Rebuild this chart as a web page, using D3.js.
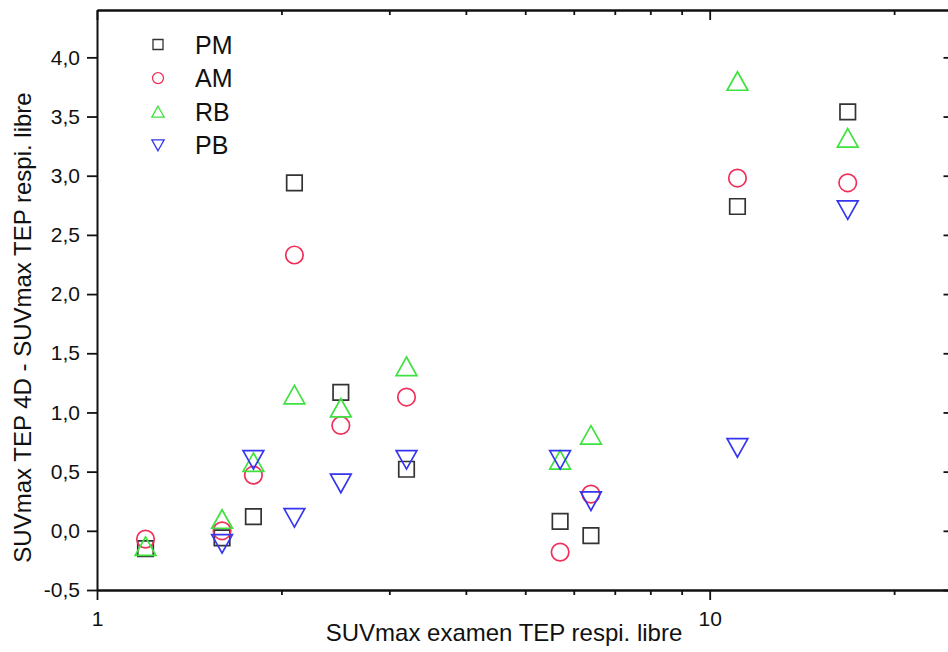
<!DOCTYPE html>
<html>
<head>
<meta charset="utf-8">
<script src="https://cdn.jsdelivr.net/npm/d3@7"></script>
<style>
  html, body { margin: 0; padding: 0; background: #fff; }
  svg { display: block; font-family: "Liberation Sans", Arial, sans-serif; }
</style>
</head>
<body>
<svg id="chart" width="948" height="652"></svg>
<script>
// SUVmax in free-breathing PET (x) vs. difference 4D PET - free-breathing PET (y)
const suvLibre = [1.2, 1.6, 1.8, 2.1, 2.5, 3.2, 5.7, 6.4, 11.1, 16.8];
const valsPM = [-0.15, -0.06, 0.12, 2.94, 1.17, 0.52, 0.08, -0.04, 2.74, 3.54];
const valsAM = [-0.07, 0.00, 0.47, 2.33, 0.89, 1.13, -0.18, 0.31, 2.98, 2.94];
const valsRB = [-0.13, 0.10, 0.58, 1.15, 1.04, 1.39, 0.60, 0.81, 3.80, 3.32];
const valsPB = [null, -0.11, 0.60, 0.11, 0.40, 0.60, 0.60, 0.25, 0.70, 2.71];

const seriesNames = ["PM", "AM", "RB", "PB"];
const seriesColors = ["#333333", "#f0305a", "#3ee23e", "#3535f0"];
const seriesShapes = ["square", "circle", "triangleUp", "triangleDown"];

const xMajorTicks = [1, 10];
const xMinorTicks = [2, 3, 4, 5, 6, 7, 8, 9, 20];
const yTicks = [-0.5, 0, 0.5, 1, 1.5, 2, 2.5, 3, 3.5, 4];

const xTitle = "SUVmax examen TEP respi. libre";
const yTitle = "SUVmax TEP 4D - SUVmax TEP respi. libre";

const series = [valsPM, valsAM, valsRB, valsPB].map((vals, i) => ({
  name: seriesNames[i], color: seriesColors[i], shape: seriesShapes[i],
  points: vals.map((v, j) => ({ x: suvLibre[j], y: v })).filter(p => p.y !== null)
}));

const svg = d3.select("#chart");
const plotLeft = 97, plotRight = 953.5, plotTop = 10, plotBottom = 590;

const x = d3.scaleLog().domain([1, 25]).range([plotLeft, plotRight]);
const y = d3.scaleLinear().domain([-0.5, 4.4]).range([plotBottom, plotTop]);

const fmtY = v => d3.format(".1f")(v).replace(".", ",").replace("−", "-");

// symbol path generator, centred on the bounding box
function shapePath(shape, s) {
  const h = s / 2;
  switch (shape) {
    case "square": return `M${-h},${-h}H${h}V${h}H${-h}Z`;
    case "circle": return `M${h},0A${h},${h} 0 1,1 ${-h},0A${h},${h} 0 1,1 ${h},0Z`;
    case "triangleUp": { const w = s * 0.56; return `M0,${-h}L${w},${h}L${-w},${h}Z`; }
    case "triangleDown": { const w = s * 0.56; return `M0,${h}L${w},${-h}L${-w},${-h}Z`; }
  }
}
const markSize = { square: 15.5, circle: 17.5, triangleUp: 18.5, triangleDown: 18.5 };

// axes
const axisStyle = g => {
  g.selectAll(".domain").attr("stroke", "#111").attr("stroke-width", 2);
  g.selectAll(".tick line").attr("stroke", "#111").attr("stroke-width", 1.8);
  g.selectAll(".tick text").attr("fill", "#111");
};

// bottom: major with labels, minor without
svg.append("g").attr("transform", `translate(0,${plotBottom})`)
  .call(d3.axisBottom(x).tickValues(xMinorTicks).tickSize(5).tickFormat("").tickSizeOuter(0))
  .call(axisStyle);
svg.append("g").attr("transform", `translate(0,${plotBottom})`)
  .call(d3.axisBottom(x).tickValues(xMajorTicks).tickSize(10).tickPadding(11).tickFormat(d3.format("d")).tickSizeOuter(0))
  .call(axisStyle)
  .call(g => g.selectAll(".tick text").attr("font-size", 21));

// top: mirrored, inward ticks
svg.append("g").attr("transform", `translate(0,${plotTop})`)
  .call(d3.axisTop(x).tickValues(xMinorTicks).tickSize(-5).tickFormat("").tickSizeOuter(0))
  .call(axisStyle);
svg.append("g").attr("transform", `translate(0,${plotTop})`)
  .call(d3.axisTop(x).tickValues(xMajorTicks).tickSize(-10).tickFormat("").tickSizeOuter(0))
  .call(axisStyle);

// left: outward ticks with labels
svg.append("g").attr("transform", `translate(${plotLeft},0)`)
  .call(d3.axisLeft(y).tickValues(yTicks).tickSize(10).tickPadding(7).tickFormat(fmtY).tickSizeOuter(0))
  .call(axisStyle)
  .call(g => g.selectAll(".tick text").attr("font-size", 21));

// right: inward ticks
svg.append("g").attr("transform", `translate(${plotRight},0)`)
  .call(d3.axisRight(y).tickValues(yTicks).tickSize(-10).tickFormat("").tickSizeOuter(0))
  .call(axisStyle);

// axis titles
svg.append("text")
  .attr("x", (322 + 686) / 2).attr("y", 641)
  .attr("text-anchor", "middle").attr("font-size", 24).attr("fill", "#111")
  .text(xTitle);
svg.append("text")
  .attr("transform", `translate(31,${(95 + 560) / 2}) rotate(-90)`)
  .attr("text-anchor", "middle").attr("font-size", 24).attr("fill", "#111")
  .text(yTitle);

// data marks
const plot = svg.append("g");
series.forEach(s => {
  plot.append("g").selectAll("path")
    .data(s.points).join("path")
    .attr("transform", d => `translate(${x(d.x)},${y(d.y)})`)
    .attr("d", shapePath(s.shape, markSize[s.shape]))
    .attr("fill", "none").attr("stroke", s.color).attr("stroke-width", 1.7);
});

// legend
const legend = svg.append("g").attr("transform", "translate(158,44.5)");
series.forEach((s, i) => {
  const row = legend.append("g").attr("transform", `translate(0,${i * 33.6})`);
  row.append("path")
    .attr("d", shapePath(s.shape, s.shape === "square" ? 10 : 11))
    .attr("fill", "none").attr("stroke", s.color).attr("stroke-width", 1.3);
  row.append("text")
    .attr("x", 37).attr("y", 9).attr("font-size", 25).attr("fill", "#111")
    .text(s.name);
});
</script>
</body>
</html>
